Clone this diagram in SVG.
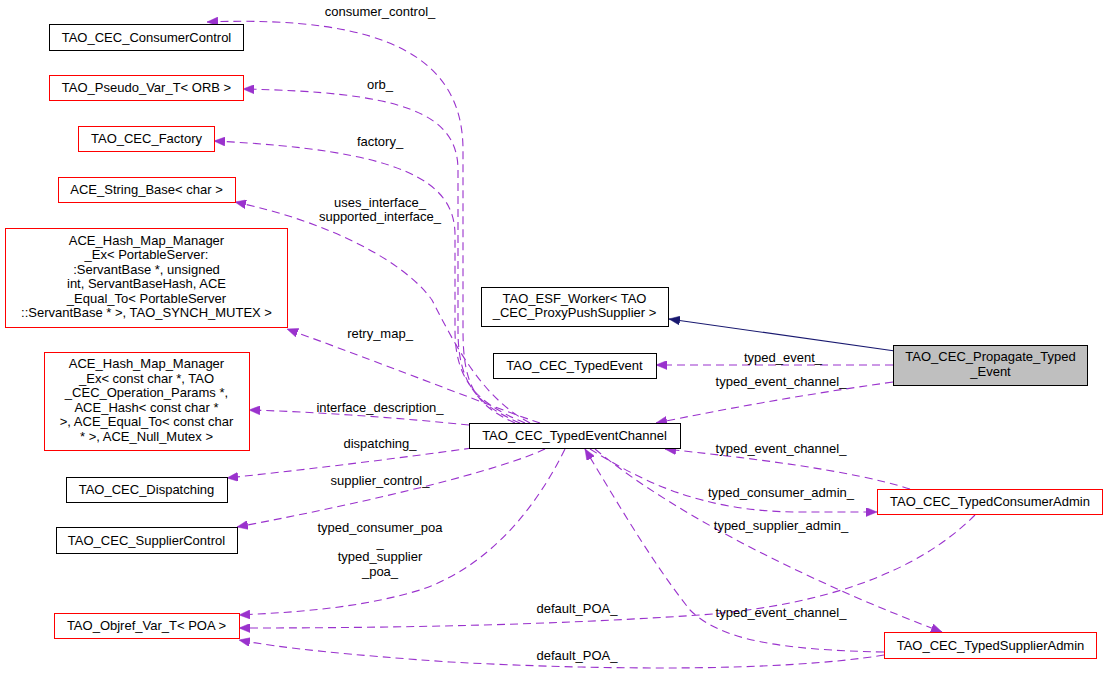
<svg xmlns="http://www.w3.org/2000/svg" width="1109" height="675" viewBox="0 0 1109 675">
<style>
text{font-family:"Liberation Sans",Arial,sans-serif;font-size:13px;fill:#000;text-anchor:middle}
.nb{fill:#fff;stroke:#000;stroke-width:1}
.nr{fill:#fff;stroke:#ff0000;stroke-width:1}
.ng{fill:#bfbfbf;stroke:#000;stroke-width:1}
.e{fill:none;stroke:#9a32cd;stroke-width:1.1;stroke-dasharray:8,5;marker-end:url(#ap)}
.inh{fill:none;stroke:#191970;stroke-width:1.1;marker-end:url(#ab)}
</style>
<defs>
<marker id="ap" viewBox="0 0 11 9" refX="11" refY="4.5" markerWidth="11" markerHeight="9" orient="auto" markerUnits="userSpaceOnUse"><path d="M0,0 L11,4.5 L0,9 z" fill="#9a32cd" stroke="#9a32cd" stroke-width="0.5"/></marker>
<marker id="ab" viewBox="0 0 11 9" refX="11" refY="4.5" markerWidth="11" markerHeight="9" orient="auto" markerUnits="userSpaceOnUse"><path d="M0,0 L11,4.5 L0,9 z" fill="#191970" stroke="#191970" stroke-width="0.5"/></marker>
</defs>
<rect width="1109" height="675" fill="#fff"/>
<g id="connectors">
<path class="inh" d="M895,351 L669,319"/>
<path class="e" d="M893,365 L656,365"/>
<path class="e" d="M893,382 C800,395 720,410 656,423"/>
<path class="e" d="M515,423 C475,405 463,385 463,330 L463,150 C463,60 390,15 207,22"/>
<path class="e" d="M520,423 C478,405 458,385 458,330 L458,170 C458,112 400,92 243,89"/>
<path class="e" d="M525,423 C482,405 455,385 455,330 L455,235 C455,180 400,150 214,141"/>
<path class="e" d="M530,423 C482,398 455,345 432,300 C405,262 330,222 235,202"/>
<path class="e" d="M540,423 C500,410 400,370 287,329"/>
<path class="e" d="M469,425 C400,418 320,412 249,410"/>
<path class="e" d="M472,448 C400,458 320,468 227,478"/>
<path class="e" d="M545,449 C500,470 380,500 237,527"/>
<path class="e" d="M565,449 C530,520 480,570 420,590 C360,608 300,612 239,615"/>
<path class="e" d="M975,515 C920,570 830,605 700,615 C550,625 400,628 239,628"/>
<path class="e" d="M884,655 C780,672 600,670 450,662 C350,655 280,648 239,640"/>
<path class="e" d="M884,652 C780,650 720,640 690,610 C650,560 610,490 585,449"/>
<path class="e" d="M590,449 C640,480 700,512 800,512 L877,512"/>
<path class="e" d="M595,449 C680,520 830,590 942,632"/>
<path class="e" d="M910,489 C850,470 750,458 665,449"/>
<text x="380" y="16">consumer_control_</text>
<text x="380" y="89">orb_</text>
<text x="380" y="146">factory_</text>
<text x="380" y="207">uses_interface_</text>
<text x="380" y="221">supported_interface_</text>
<text x="380" y="338">retry_map_</text>
<text x="380" y="412">interface_description_</text>
<text x="380" y="448">dispatching_</text>
<text x="380" y="485">supplier_control_</text>
<text x="380" y="532">typed_consumer_poa</text>
<text x="380" y="546.5">_</text>
<text x="380" y="561">typed_supplier</text>
<text x="380" y="575.5">_poa_</text>
<text x="577" y="613">default_POA_</text>
<text x="577" y="660">default_POA_</text>
<text x="783" y="362">typed_event_</text>
<text x="781" y="386">typed_event_channel_</text>
<text x="781" y="453">typed_event_channel_</text>
<text x="781" y="497">typed_consumer_admin_</text>
<text x="781" y="530">typed_supplier_admin_</text>
<text x="781" y="617">typed_event_channel_</text>
</g>
<g id="n_consumercontrol"><rect class="nb" x="49.5" y="24.5" width="194" height="26"/><text x="146.5" y="42">TAO_CEC_ConsumerControl</text></g>
<g id="n_pseudovar"><rect class="nr" x="49.5" y="75.5" width="194" height="25"/><text x="146.5" y="92">TAO_Pseudo_Var_T&lt; ORB &gt;</text></g>
<g id="n_factory"><rect class="nr" x="78.5" y="126.5" width="136" height="25"/><text x="146.5" y="143">TAO_CEC_Factory</text></g>
<g id="n_stringbase"><rect class="nr" x="58.5" y="177.5" width="177" height="25"/><text x="146.5" y="194">ACE_String_Base&lt; char &gt;</text></g>
<g id="n_hashmap1"><rect class="nr" x="5.5" y="228.5" width="282" height="99"/>
<text x="146.5" y="244.5">ACE_Hash_Map_Manager</text>
<text x="146.5" y="259">_Ex&lt; PortableServer:</text>
<text x="146.5" y="273.5">:ServantBase *, unsigned</text>
<text x="146.5" y="288">int, ServantBaseHash, ACE</text>
<text x="146.5" y="302.5">_Equal_To&lt; PortableServer</text>
<text x="146.5" y="317">::ServantBase * &gt;, TAO_SYNCH_MUTEX &gt;</text></g>
<g id="n_hashmap2"><rect class="nr" x="44.5" y="352.5" width="205" height="98"/>
<text x="146.5" y="368">ACE_Hash_Map_Manager</text>
<text x="146.5" y="382.5">_Ex&lt; const char *, TAO</text>
<text x="146.5" y="397">_CEC_Operation_Params *,</text>
<text x="146.5" y="411.5">ACE_Hash&lt; const char *</text>
<text x="146.5" y="426">&gt;, ACE_Equal_To&lt; const char</text>
<text x="146.5" y="440.5">* &gt;, ACE_Null_Mutex &gt;</text></g>
<g id="n_dispatching"><rect class="nb" x="66.5" y="477.5" width="161" height="25"/><text x="146.5" y="494">TAO_CEC_Dispatching</text></g>
<g id="n_suppliercontrol"><rect class="nb" x="56.5" y="527.5" width="181" height="26"/><text x="146.5" y="545">TAO_CEC_SupplierControl</text></g>
<g id="n_objref"><rect class="nr" x="54.5" y="613.5" width="185" height="25"/><text x="146.5" y="630">TAO_Objref_Var_T&lt; POA &gt;</text></g>
<g id="n_esfworker"><rect class="nb" x="481.5" y="287.5" width="187" height="39"/>
<text x="574.5" y="302.5">TAO_ESF_Worker&lt; TAO</text>
<text x="574.5" y="317">_CEC_ProxyPushSupplier &gt;</text></g>
<g id="n_typedevent"><rect class="nb" x="493.5" y="353.5" width="163" height="25"/><text x="574.5" y="370">TAO_CEC_TypedEvent</text></g>
<g id="n_typedeventchannel"><rect class="nb" x="469.5" y="423.5" width="211" height="25"/><text x="574.5" y="440">TAO_CEC_TypedEventChannel</text></g>
<g id="n_propagate"><rect class="ng" x="893.5" y="345.5" width="194" height="40"/>
<text x="990.5" y="361">TAO_CEC_Propagate_Typed</text>
<text x="990.5" y="375.5">_Event</text></g>
<g id="n_consumeradmin"><rect class="nr" x="877.5" y="489.5" width="225" height="25"/><text x="990" y="506">TAO_CEC_TypedConsumerAdmin</text></g>
<g id="n_supplieradmin"><rect class="nr" x="884.5" y="632.5" width="212" height="26"/><text x="990.5" y="650">TAO_CEC_TypedSupplierAdmin</text></g>
</svg>
